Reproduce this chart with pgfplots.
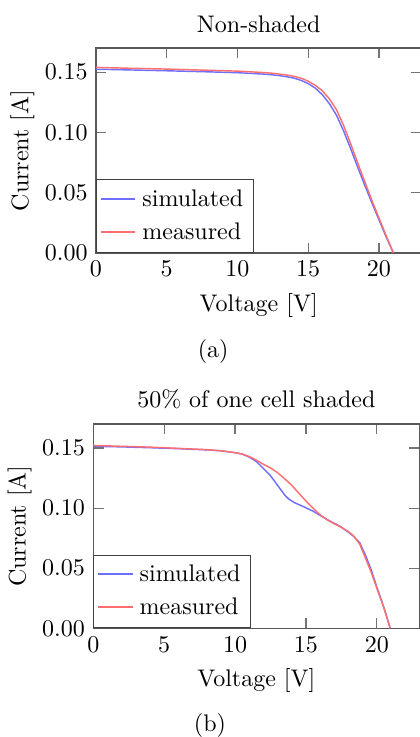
\documentclass[border=0pt]{standalone}
\usepackage{pgfplots}
\pgfplotsset{compat=1.18}
\definecolor{simc}{RGB}{110,110,255}
\definecolor{meac}{RGB}{255,110,110}
\pgfplotsset{legend image code/.code={\draw[#1, line width=0.8pt] (0cm,0.3pt) -- (0.5cm,0.3pt);}}
\pgfplotsset{
  ivstyle/.style={
    scale only axis,
    xmin=0, xmax=23, ymin=0, ymax=0.17,
    xtick={0,5,10,15,20},
    ytick={0,0.05,0.1,0.15},
    yticklabel style={/pgf/number format/fixed,/pgf/number format/precision=2,/pgf/number format/fixed zerofill},
    scaled y ticks=false,
    xlabel={Voltage [V]},
    ylabel={Current [A]},
    ylabel shift=-2.5pt,
    axis line style={black!65, line width=0.5pt},
    tick style={black!55, line width=0.5pt},
    legend style={at={(0,0)}, anchor=south west, draw=black!75, legend cell align=left,
      inner sep=1.5pt, nodes={inner sep=2.6pt}},
    title style={yshift=-3pt},
  }
}
\begin{document}
\begin{tikzpicture}
\begin{axis}[ivstyle, at={(40pt,-20pt)}, anchor=north west, width=135.6pt, height=85.4pt, title={Non-shaded}]
\addplot[simc, line width=0.6pt] coordinates {
(0,0.1524) (2,0.1519) (5,0.1511) (8,0.1502) (10,0.1495) (11,0.1489) (12,0.1482) (12.5,0.1477) (13,0.1470) (13.5,0.1461) (14,0.1450)
(14.5,0.1431) (15,0.1405) (15.5,0.1367) (16,0.1312) (16.5,0.1237) (17,0.1142) (17.5,0.1012)
(18,0.0865) (18.5,0.0710) (19,0.0560) (19.5,0.0415) (20,0.0275) (20.5,0.0135) (21.02,0)
};
\addlegendentry{simulated}
\addplot[meac, line width=0.6pt] coordinates {
(0,0.1539) (2,0.1533) (5,0.1525) (8,0.1515) (10,0.1508) (11,0.1502) (12,0.1495) (12.5,0.1490) (13,0.1483) (13.5,0.1475) (14,0.1465)
(14.5,0.1449) (15,0.1425) (15.5,0.1390) (16,0.1345) (16.5,0.1277) (17,0.1187) (17.5,0.1057)
(18,0.0905) (18.5,0.0745) (19,0.0590) (19.5,0.0435) (20,0.0290) (20.5,0.0145) (21.02,0)
};
\addlegendentry{measured}
\end{axis}
\begin{axis}[ivstyle, at={(38.9pt,-176.7pt)}, anchor=north west, width=135.8pt, height=85.1pt, title={50\% of one cell shaded}]
\addplot[simc, line width=0.6pt] coordinates {
(0,0.1515) (2,0.1510) (4,0.1503) (6,0.1495) (8,0.1485) (9,0.1477) (10,0.1462) (10.5,0.1450)
(11,0.1425) (11.5,0.1388) (12,0.1330) (12.5,0.1270) (13,0.1190) (13.5,0.1110) (13.8,0.1075)
(14.2,0.1045) (14.6,0.1025) (15.5,0.0975) (16.5,0.0905) (17.4,0.0850) (18,0.0800) (18.4,0.0762)
(18.8,0.0712) (19.2,0.0610) (19.6,0.0490) (20,0.0345) (20.5,0.0175) (20.95,0)
};
\addlegendentry{simulated}
\addplot[meac, line width=0.6pt] coordinates {
(0,0.1522) (2,0.1515) (4,0.1508) (6,0.1498) (8,0.1487) (9,0.1478) (10,0.1462) (10.5,0.1450)
(11,0.1430) (11.5,0.1400) (12,0.1365) (12.5,0.1335) (13,0.1295) (13.5,0.1245) (14,0.1190)
(14.5,0.1125) (15,0.1060) (15.5,0.1000) (16,0.0945) (16.5,0.0903) (17,0.0870) (17.5,0.0840)
(18,0.0805) (18.4,0.0765) (18.8,0.0700) (19.2,0.0585) (19.6,0.0470) (20,0.0335) (20.5,0.0170) (20.95,0)
};
\addlegendentry{measured}
\end{axis}
\node at (88.8pt,-146.3pt) {(a)};
\node at (87.5pt,-302.5pt) {(b)};
\pgfresetboundingbox
\path[use as bounding box] (0,0) rectangle (175pt,-307.1pt);
\end{tikzpicture}
\end{document}
